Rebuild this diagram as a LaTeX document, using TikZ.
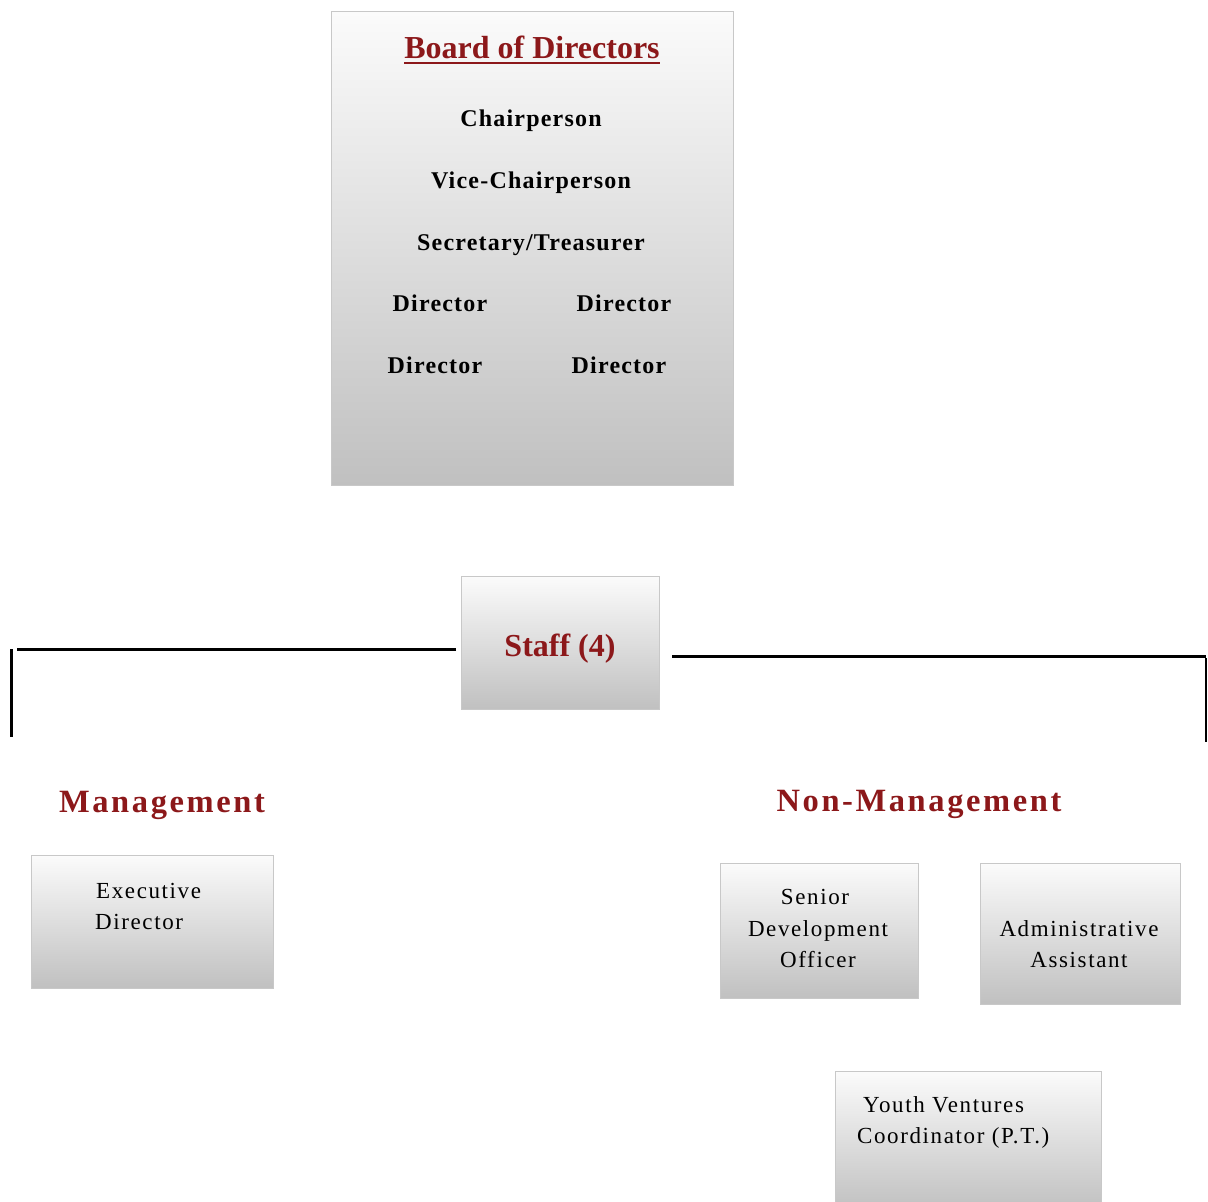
\documentclass[tikz,border=0pt]{standalone}
\usepackage{fontspec}
\setmainfont{Liberation Serif}
\newfontfamily\bspaced[LetterSpace=5]{Liberation Serif Bold}
\newfontfamily\hspaced[LetterSpace=8]{Liberation Serif Bold}
\newfontfamily\rspaced[LetterSpace=7]{Liberation Serif}
\definecolor{dred}{RGB}{140,24,26}
\definecolor{gtop}{RGB}{251,251,251}
\definecolor{gbot}{RGB}{192,192,192}
\definecolor{bord}{RGB}{200,200,200}
\tikzset{
  box/.style={rectangle, draw=bord, line width=1pt, top color=gtop, bottom color=gbot,
    inner sep=0pt, anchor=north west},
  txt/.style={inner sep=0pt, anchor=base},
  ltxt/.style={inner sep=0pt, anchor=base west},
  bigred/.style={txt, text=dred, font=\fontsize{32}{38}\selectfont\bfseries},
  head/.style={txt, text=dred, font=\fontsize{32.5}{38}\selectfont\hspaced},
  member/.style={txt, font=\fontsize{24}{28}\selectfont\bspaced},
  role/.style={font=\fontsize{23}{31}\selectfont\rspaced},
  link/.style={line width=3pt, black}
}
\begin{document}
\begin{tikzpicture}[x=1pt,y=-1pt]
\useasboundingbox (0,0) rectangle (1208,1202);
% boxes
\node[box, minimum width=402pt, minimum height=474pt] (board) at (331,11) {};
\node[box, minimum width=198pt, minimum height=133pt] (staff) at (461,576) {};
\node[box, minimum width=242pt, minimum height=133pt] (exec) at (31,855) {};
\node[box, minimum width=198pt, minimum height=135pt] (sdo) at (720,863) {};
\node[box, minimum width=200pt, minimum height=141pt] (adm) at (980,863) {};
\node[box, minimum width=266pt, minimum height=140pt] (yvc) at (835,1071) {};
% board text
\node[bigred] (title) at (532,58) {Board of Directors};
\draw[dred, line width=2pt] ([yshift=-5pt]title.base west) -- ([yshift=-5pt]title.base east);
\node[member] (chair) at (531,126) {Chairperson};
\node[member] (vice) at (531,188) {Vice-Chairperson};
\node[member] (sec) at (531,250) {Secretary/Treasurer};
\node[member] (d1) at (440,311) {Director};
\node[member] (d2) at (624,311) {Director};
\node[member] (d3) at (435,373) {Director};
\node[member] (d4) at (619,373) {Director};
% staff
\node[bigred] (stafft) at (560,656) {Staff (4)};
% connectors
\coordinate (la) at (456,649);
\coordinate (lb) at (17,649);
\coordinate (lc) at (11,649);
\coordinate (ld) at (11,737);
\coordinate (ra) at (672,656);
\coordinate (rb) at (1206,656);
\coordinate (rc) at (1206,658);
\coordinate (rd) at (1206,742);
\draw[link] (la) -- (lb);
\draw[line width=3pt] (lc) -- (ld);
\draw[link] (ra) -- (rb);
\draw[line width=2pt] (rc) -- (rd);
% headings
\node[head] (mgmt) at (162,812) {Management};
\node[head] (nonmgmt) at (919,811) {Non-Management};
% role texts
\node[ltxt, role] (exec1) at (96,898) {Executive};
\node[ltxt, role] (exec2) at (95,929) {Director};
\node[txt, role] (sdo1) at (815,904) {Senior};
\node[txt, role] (sdo2) at (818,936) {Development};
\node[txt, role] (sdo3) at (818,967) {Officer};
\node[txt, role] (adm1) at (1079,936) {Administrative};
\node[txt, role] (adm2) at (1079,967) {Assistant};
\node[ltxt, role] (yvc1) at (863,1112) {Youth Ventures};
\node[ltxt, role] (yvc2) at (857,1143) {Coordinator (P.T.)};
\end{tikzpicture}
\end{document}
